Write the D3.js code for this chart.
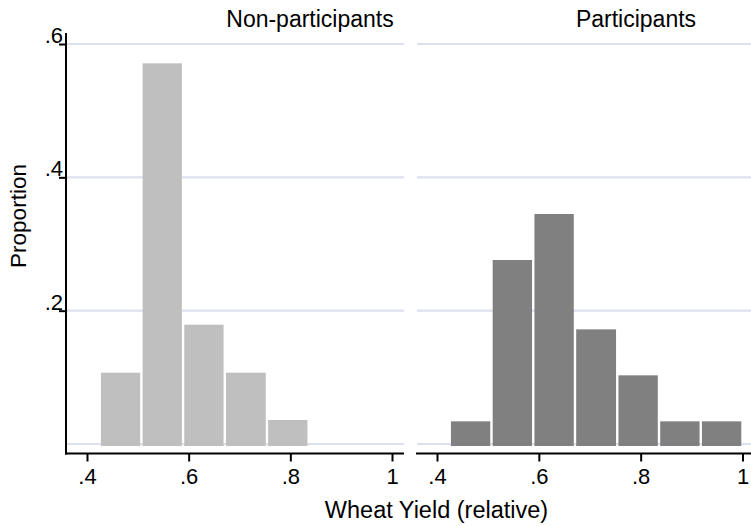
<!DOCTYPE html>
<html>
<head>
<meta charset="utf-8">
<script src="https://cdn.jsdelivr.net/npm/d3@7"></script>
<style>
  body { margin: 0; background: #fff; }
  svg { display: block; font-family: 'Liberation Sans', Arial, sans-serif; }
</style>
</head>
<body>
<svg width="751" height="526"></svg>
<script>
// histogram bin edges (relative wheat yield)
const binEdges = [0.425, 0.507, 0.589, 0.671, 0.754, 0.836, 0.918, 1.0];
const panelNames = ['Non-participants', 'Participants'];
const nonParticipants = [0.107, 0.571, 0.179, 0.107, 0.036, 0, 0];
const participants = [0.034, 0.276, 0.345, 0.172, 0.103, 0.034, 0.034];
const xTicks = [0.4, 0.6, 0.8, 1];
const yTicks = [0.2, 0.4, 0.6];
const gridTicks = [0, 0.2, 0.4, 0.6];

const svg = d3.select('svg');
const fmt = function (d) {
  return d3.format('~g')(d).replace(/^0\./, '.');
};

const y = d3.scaleLinear().domain([0, 0.6]).range([444, 44]);
const axisY = 453.5;
const topY = 33;

const panels = [
  { name: panelNames[0], values: nonParticipants, left: 66, right: 404, x0: 87, x1: 392, color: '#bfbfbf', titleX: 310 },
  { name: panelNames[1], values: participants, left: 417, right: 751, x0: 437, x1: 742.5, color: '#808080', titleX: 636 }
];

panels.forEach(function (p, pi) {
  const x = d3.scaleLinear().domain([0.4, 1]).range([p.x0, p.x1]);
  const g = svg.append('g');

  // gridlines
  g.append('g')
    .selectAll('line')
    .data(gridTicks)
    .enter()
    .append('line')
    .attr('x1', p.left)
    .attr('x2', p.right)
    .attr('y1', y)
    .attr('y2', y)
    .attr('stroke', '#dce1ed')
    .attr('stroke-width', 2.2);

  // bars
  const bins = p.values.map(function (v, i) {
    return { x0: binEdges[i], x1: binEdges[i + 1], value: v };
  }).filter(function (d) { return d.value > 0; });

  g.append('g')
    .selectAll('rect')
    .data(bins)
    .enter()
    .append('rect')
    .attr('x', function (d) { return x(d.x0) + 1.2; })
    .attr('width', function (d) { return x(d.x1) - x(d.x0) - 2.4; })
    .attr('y', function (d) { return y(d.value); })
    .attr('height', function (d) { return y(0) + 2 - y(d.value); })
    .attr('fill', p.color);

  // x axis
  const xa = g.append('g')
    .attr('transform', 'translate(0,' + axisY + ')')
    .call(d3.axisBottom(x).tickValues(xTicks).tickSize(8).tickPadding(7).tickFormat(fmt));
  xa.select('.domain').remove();
  xa.selectAll('.tick line').attr('stroke', '#000').attr('stroke-width', 2);
  xa.selectAll('.tick text').attr('font-size', 22).attr('fill', '#000').attr('font-family', null);

  g.append('line')
    .attr('x1', p.left - 1)
    .attr('x2', p.right)
    .attr('y1', axisY)
    .attr('y2', axisY)
    .attr('stroke', '#000')
    .attr('stroke-width', 2);

  // y axis only on first panel
  if (pi === 0) {
    const ya = g.append('g')
      .attr('transform', 'translate(' + p.left + ',0)')
      .call(d3.axisLeft(y).tickValues(yTicks).tickSize(7).tickPadding(-4).tickFormat(fmt));
    ya.select('.domain').remove();
    ya.selectAll('.tick line').attr('stroke', '#000').attr('stroke-width', 2);
    ya.selectAll('.tick text')
      .attr('font-size', 22)
      .attr('fill', '#000')
      .attr('font-family', null)
      .attr('dy', '-0.07em');

    g.append('line')
      .attr('x1', p.left)
      .attr('x2', p.left)
      .attr('y1', topY)
      .attr('y2', axisY + 1)
      .attr('stroke', '#000')
      .attr('stroke-width', 2);
  }

  // panel title
  g.append('text')
    .attr('x', p.titleX)
    .attr('y', 27)
    .attr('text-anchor', 'middle')
    .attr('font-size', 23)
    .attr('fill', '#000')
    .text(p.name);
});

// axis titles
svg.append('text')
  .attr('x', 436.5)
  .attr('y', 518)
  .attr('text-anchor', 'middle')
  .attr('font-size', 23.5)
  .attr('fill', '#000')
  .text('Wheat Yield (relative)');

svg.append('text')
  .attr('transform', 'translate(26,216) rotate(-90)')
  .attr('text-anchor', 'middle')
  .attr('font-size', 22.5)
  .attr('fill', '#000')
  .text('Proportion');
</script>
</body>
</html>
